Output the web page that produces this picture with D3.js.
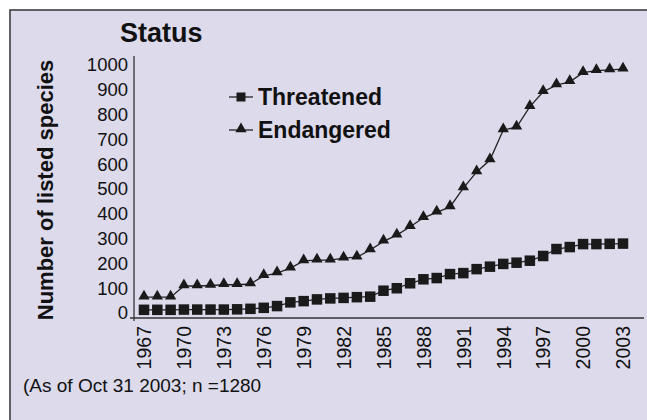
<!DOCTYPE html>
<html><head><meta charset="utf-8">
<script src="https://cdn.jsdelivr.net/npm/d3@7"></script>
<style>html,body{margin:0;padding:0;background:#fff;}svg{display:block;font-family:"Liberation Sans",Arial,sans-serif;}</style>
</head><body>
<script>
const years = d3.range(1967, 2004);
const threatened = [13,13,13,14,14,14,14,15,17,21,28,43,48,55,59,61,64,66,90,100,120,136,141,157,161,177,187,198,203,211,230,258,266,278,278,279,280];
const endangered = [64,64,64,109,109,111,114,114,117,150,161,181,210,213,213,221,225,254,289,314,348,384,406,428,504,569,617,738,749,832,892,919,932,969,977,980,983];
const yTicks = d3.range(0, 1001, 100);
const xTicks = d3.range(1967, 2004, 3);
const seriesNames = ["Threatened", "Endangered"];

const W = 647, H = 420;
const svg = d3.select("body").append("svg").attr("width", W).attr("height", H);

// frame
svg.append("rect").attr("x", 10).attr("y", 10).attr("width", W + 20).attr("height", H + 20)
  .attr("fill", "#dcdaeb").attr("stroke", "#333").attr("stroke-width", 1.5);

const x = d3.scaleLinear().domain([1967, 2003]).range([144, 623]);
const y = d3.scaleLinear().domain([-20, 1000]).range([318, 65]);

// title
svg.append("text").attr("x", 120).attr("y", 42).attr("font-size", 27).attr("font-weight", "bold")
  .attr("fill", "#111").text("Status");

// y axis title
svg.append("text").attr("transform", "translate(53,190) rotate(-90)").attr("text-anchor", "middle")
  .attr("font-size", 22).attr("font-weight", "bold").attr("fill", "#111").text("Number of listed species");

// y axis
const yAxis = svg.append("g").attr("transform", "translate(134,0)")
  .call(d3.axisLeft(y).tickValues(yTicks).tickSize(0).tickPadding(6).tickFormat(d3.format("d")));
yAxis.select(".domain").attr("d", "M0,56V321").attr("stroke", "#333").attr("stroke-width", 1.3);
yAxis.selectAll("text").attr("font-size", 18.5).attr("fill", "#111").attr("font-family", "Liberation Sans, Arial, sans-serif");

// x axis
const xAxis = svg.append("g").attr("transform", "translate(0,318)")
  .call(d3.axisBottom(x).tickValues(xTicks).tickSize(0).tickFormat(d3.format("d")));
xAxis.select(".domain").attr("d", "M130,0H644").attr("stroke", "#333").attr("stroke-width", 1.3);
xAxis.selectAll("text").attr("font-size", 19.5).attr("fill", "#111")
  .attr("font-family", "Liberation Sans, Arial, sans-serif")
  .attr("transform", "rotate(-90)").attr("text-anchor", "end")
  .attr("x", -8).attr("y", 0).attr("dy", "0.35em");

const line = d3.line().x((d, i) => x(years[i])).y(d => y(d));
const sqSize = 10.5;
const tri = d3.symbol().type(d3.symbolTriangle).size(55);

// threatened
svg.append("path").datum(threatened).attr("d", line).attr("fill", "none").attr("stroke", "#222").attr("stroke-width", 1.3);
svg.append("g").selectAll("rect").data(threatened).join("rect")
  .attr("x", (d, i) => x(years[i]) - sqSize / 2).attr("y", d => y(d) - sqSize / 2)
  .attr("width", sqSize).attr("height", sqSize).attr("fill", "#1a1a1a");

// endangered
svg.append("path").datum(endangered).attr("d", line).attr("fill", "none").attr("stroke", "#222").attr("stroke-width", 1.3);
svg.append("g").selectAll("path").data(endangered).join("path")
  .attr("d", tri).attr("transform", (d, i) => `translate(${x(years[i])},${y(d) - 1})`).attr("fill", "#1a1a1a");

// legend
const leg = svg.append("g");
seriesNames.forEach((name, k) => {
  const ly = 97 + k * 33;
  leg.append("line").attr("x1", 229).attr("x2", 253).attr("y1", ly).attr("y2", ly).attr("stroke", "#222").attr("stroke-width", 1.3);
  if (k === 0) {
    leg.append("rect").attr("x", 241 - 4.5).attr("y", ly - 4.5).attr("width", 9).attr("height", 9).attr("fill", "#1a1a1a");
  } else {
    leg.append("path").attr("d", tri).attr("transform", `translate(241,${ly - 1})`).attr("fill", "#1a1a1a");
  }
  leg.append("text").attr("x", 258).attr("y", ly).attr("dy", "0.35em").attr("font-size", 23).attr("font-weight", "bold")
    .attr("fill", "#111").text(name);
});

// footnote
svg.append("text").attr("x", 23).attr("y", 392).attr("font-size", 19).attr("fill", "#111")
  .text("(As of Oct 31 2003; n =1280");
</script>
</body></html>
